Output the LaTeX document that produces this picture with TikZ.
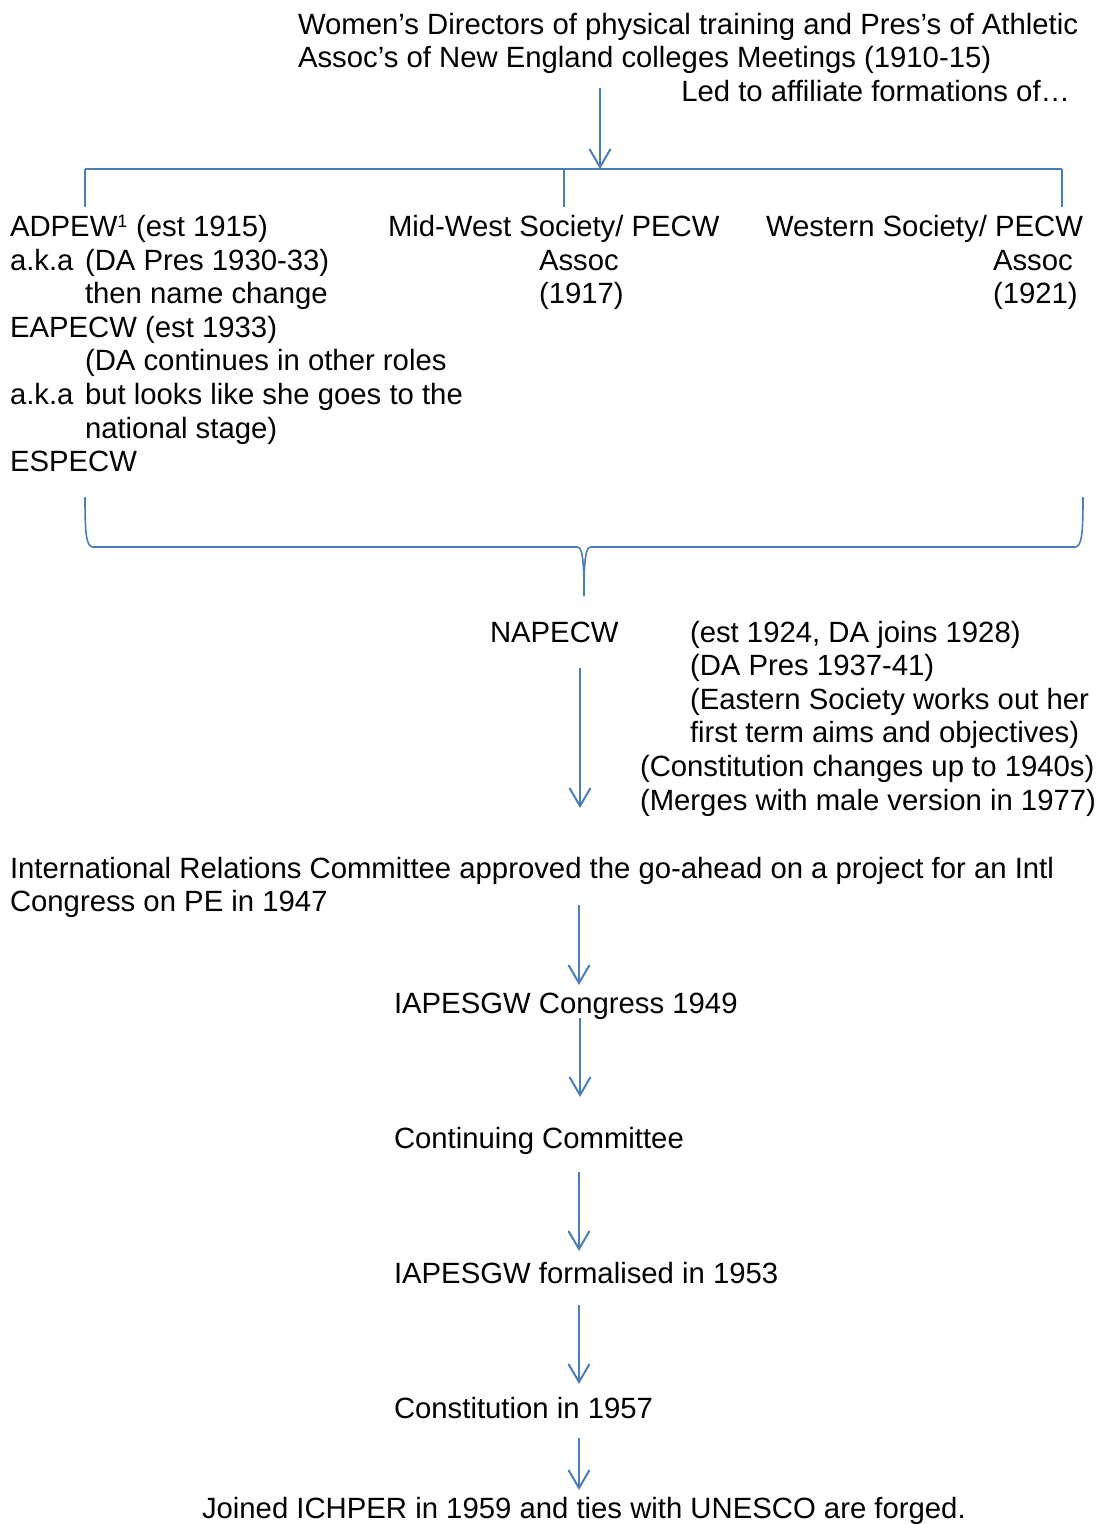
\documentclass[tikz,border=0pt]{standalone}
\usepackage{fontspec}
\setmainfont{Liberation Sans}
\usetikzlibrary{arrows.meta}
\definecolor{flowblue}{HTML}{4A7EBB}
\newcommand{\flowfont}{\fontsize{29.3}{33.6}\selectfont}
\begin{document}
\begin{tikzpicture}[x=1pt,y=-1pt,
  txt/.style={anchor=base west,inner sep=0pt,outer sep=0pt,font=\flowfont},
  txtr/.style={anchor=base east,inner sep=0pt,outer sep=0pt,font=\flowfont},
  link/.style={draw=flowblue,line width=2pt},
  flow/.style={link,-{Straight Barb[length=18pt,width=21pt,line width=2pt]}}]
\useasboundingbox (0,0) rectangle (1096,1524);

% opening meetings
\node[txt]  (m1) at (298,34)   {Women’s Directors of physical training and Pres’s of Athletic};
\node[txt]  (m2) at (298,67.6) {Assoc’s of New England colleges Meetings (1910-15)};
\node[txtr] (m3) at (1070,101.2) {Led to affiliate formations of…};

% bracket to the three regional societies
\coordinate (topS) at (600,88);
\coordinate (topE) at (600,169);
\coordinate (brL) at (85,169);
\coordinate (brM) at (564,169);
\coordinate (brR) at (1062,169);
\coordinate (tkL) at (85,207);
\coordinate (tkM) at (564,207);
\coordinate (tkR) at (1062,207);
\draw[link] (brL) -- (brR);
\draw[link] (brL) -- (tkL);
\draw[link] (brM) -- (tkM);
\draw[link] (brR) -- (tkR);
\draw[flow] (topS) -- (topE);

% eastern society column
\node[txt] (e1) at (10,236.5) {ADPEW\textsuperscript{\fontsize{18}{18}\selectfont 1} (est 1915)};
\node[txt] (e2a) at (10,270.1) {a.k.a};
\node[txt] (e2b) at (85,270.1) {(DA Pres 1930-33)};
\node[txt] (e3) at (85,303.7) {then name change};
\node[txt] (e4) at (10,337.3) {EAPECW (est 1933)};
\node[txt] (e5) at (85,370.9) {(DA continues in other roles};
\node[txt] (e6a) at (10,404.5) {a.k.a};
\node[txt] (e6b) at (85,404.5) {but looks like she goes to the};
\node[txt] (e7) at (85,438.1) {national stage)};
\node[txt] (e8) at (10,471.7) {ESPECW};

% mid-west society
\node[txt] (w1) at (388,236.5) {Mid-West Society/ PECW};
\node[txt] (w2) at (539,270.1) {Assoc};
\node[txt] (w3) at (539,303.7) {(1917)};

% western society
\node[txt] (s1) at (766,236.5) {Western Society/ PECW};
\node[txt] (s2) at (993,270.1) {Assoc};
\node[txt] (s3) at (993,303.7) {(1921)};

% brace gathering the societies
\coordinate (bL) at (85,497);
\coordinate (bR) at (1083,497);
\coordinate (bTip) at (584,596);
\draw[link,line width=1.6pt] (bL) .. controls (85,532) and (86,547) .. (93,547)
  -- (577,547) .. controls (582,547) and (584,556) .. (bTip);
\draw[link,line width=1.6pt] (bTip) .. controls (584,556) and (586,547) .. (591,547)
  -- (1075,547) .. controls (1082,547) and (1083,532) .. (bR);

% national association
\node[txt] (n0) at (490,642) {NAPECW};
\node[txt] (n1) at (690,642) {(est 1924, DA joins 1928)};
\node[txt] (n2) at (690,675.6) {(DA Pres 1937-41)};
\node[txt] (n3) at (690,709.2) {(Eastern Society works out her};
\node[txt] (n4) at (690,742.8) {first term aims and objectives)};
\node[txt] (n5) at (640,776.4) {(Constitution changes up to 1940s)};
\node[txt] (n6) at (640,810) {(Merges with male version in 1977)};
\coordinate (a2s) at (580,668);
\coordinate (a2e) at (580,808);
\draw[flow] (a2s) -- (a2e);

% international steps
\node[txt] (i1) at (10,878) {International Relations Committee approved the go-ahead on a project for an Intl};
\node[txt] (i2) at (10,911.6) {Congress on PE in 1947};
\coordinate (a3s) at (579,905);
\coordinate (a3e) at (579,985);
\draw[flow] (a3s) -- (a3e);

\node[txt] (c1) at (394,1013) {IAPESGW Congress 1949};
\coordinate (a4s) at (580,1018);
\coordinate (a4e) at (580,1097);
\draw[flow] (a4s) -- (a4e);

\node[txt] (c2) at (394,1148.5) {Continuing Committee};
\coordinate (a5s) at (579,1172);
\coordinate (a5e) at (579,1251);
\draw[flow] (a5s) -- (a5e);

\node[txt] (c3) at (394,1283) {IAPESGW formalised in 1953};
\coordinate (a6s) at (579,1305);
\coordinate (a6e) at (579,1384);
\draw[flow] (a6s) -- (a6e);

\node[txt] (c4) at (394,1418) {Constitution in 1957};
\coordinate (a7s) at (579,1438);
\coordinate (a7e) at (579,1490);
\draw[flow] (a7s) -- (a7e);

\node[txt] (c5) at (202,1518) {Joined ICHPER in 1959 and ties with UNESCO are forged.};
\end{tikzpicture}
\end{document}
